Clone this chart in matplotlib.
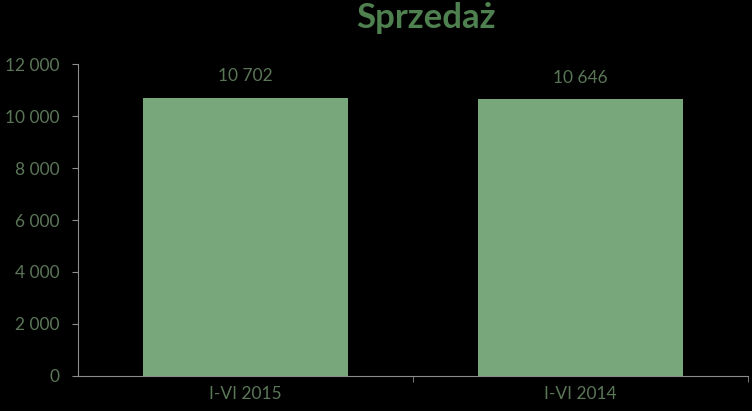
import matplotlib
matplotlib.use("Agg")

import matplotlib.pyplot as plt
from matplotlib.ticker import FuncFormatter

# dane
categories = ["I-VI 2015", "I-VI 2014"]
values = [10702, 10646]
y_ticks = [0, 2000, 4000, 6000, 8000, 10000, 12000]

BG = "black"
BAR_COLOR = "#77A77B"
TEXT_COLOR = "#5A7657"
TITLE_COLOR = "#4F8050"
AXIS_COLOR = "#8C8C8C"

plt.rcParams["font.family"] = ["Lato", "DejaVu Sans"]

fig = plt.figure(figsize=(7.52, 4.11), dpi=100, facecolor=BG)
ax = fig.add_axes([0.1037, 0.0852, 0.891, 0.759])
ax.set_facecolor(BG)

x = list(range(len(categories)))
ax.bar(x, values, width=0.61, color=BAR_COLOR)

# etykiety wartości
for xi, v in zip(x, values):
    ax.text(xi, v + 520, f"{v:,}".replace(",", " "), ha="center", va="bottom",
            color=TEXT_COLOR, fontsize=12.5)

ax.set_xlim(-0.5, len(categories) - 0.5)
ax.set_ylim(0, 12000)
ax.set_yticks(y_ticks)
ax.yaxis.set_major_formatter(FuncFormatter(lambda v, p: f"{int(v):,}".replace(",", " ")))

ax.set_xticks(x)
ax.set_xticklabels(categories)
ax.set_xticks([0.5, 1.5], minor=True)
ax.tick_params(axis="x", which="major", length=0, pad=7)
ax.tick_params(axis="x", which="minor", length=4.5, color=AXIS_COLOR, direction="out")
ax.tick_params(axis="y", length=4.5, color=AXIS_COLOR, direction="out", pad=9)
ax.tick_params(labelcolor=TEXT_COLOR, labelsize=12.5)

for side in ["top", "right"]:
    ax.spines[side].set_visible(False)
for side in ["left", "bottom"]:
    ax.spines[side].set_color(AXIS_COLOR)
    ax.spines[side].set_linewidth(0.8)

fig.text(0.566, 0.955, "Sprzedaż", ha="center", va="center",
         color=TITLE_COLOR, fontsize=25, fontweight="bold")

fig.savefig("out.png", dpi=100, facecolor=BG)
